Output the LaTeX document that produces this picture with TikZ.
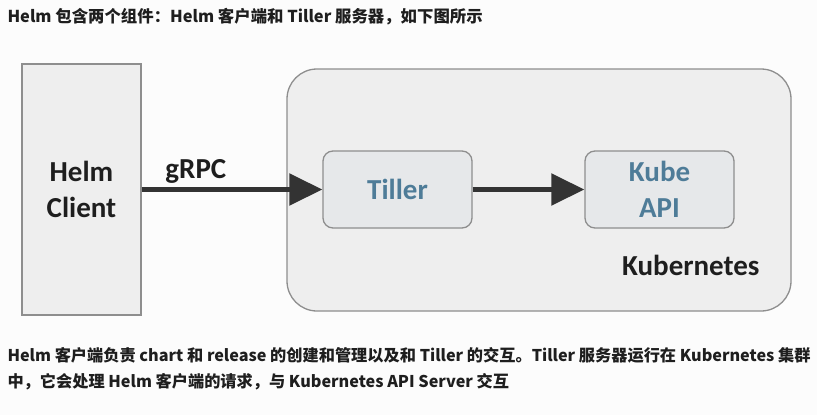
\documentclass[tikz,border=0pt]{standalone}
\usepackage{fontspec}
\setmainfont{Carlito}
\newfontfamily\cjk{Noto Sans CJK SC}
\usetikzlibrary{arrows.meta}
\usetikzlibrary{positioning}
\definecolor{pagebg}{HTML}{FCFCFC}
\definecolor{boxfill}{HTML}{EEEEEE}
\definecolor{boxline}{HTML}{8E8E8E}
\definecolor{innerfill}{HTML}{E6E8EA}
\definecolor{steel}{HTML}{4E7C98}
\definecolor{arrowgray}{HTML}{333333}
\definecolor{ink}{HTML}{1E1E1E}
\tikzset{
    box/.style={
        draw=boxline, fill=boxfill, line width=1.3pt, text=ink,
        font=\fontsize{29}{36}\selectfont\bfseries, align=center
    },
    innerbox/.style={
        box, fill=innerfill, rounded corners=10pt, text=steel,
        minimum width=149pt, minimum height=77pt
    },
    flowarrow/.style={
        draw=arrowgray, line width=5.5pt,
        -{Triangle[length=33pt, width=31pt, fill=arrowgray]}
    }
}

\begin{document}
\begin{tikzpicture}[x=1pt, y=-1pt]
	\useasboundingbox[fill=pagebg] (0,0) rectangle (817,415);
	
	\node[anchor=west, text=ink, font=\cjk\bfseries\fontsize{16.4}{18}\selectfont] (title) at (4,17)
		{Helm 包含两个组件：Helm 客户端和 Tiller 服务器，如下图所示};
	
	% client and cluster
	\node[box, minimum width=119pt, minimum height=251pt] (helmclient) at (81.5,189.5) {Helm\\Client};
	\draw[box, rounded corners=30pt] (287,69) rectangle (791,311);
	\node[anchor=east, text=ink, font=\fontsize{29}{36}\selectfont\bfseries] (kubernetes) at (763,265) {Kubernetes};
	
	\node[innerbox] (tiller) at (397.5,189.5) {Tiller};
	\node[innerbox] (kubeapi) at (659.5,189.5) {Kube\\API};
	
	\draw[flowarrow] (helmclient) -- node[pos=0.3, above=0pt, text=ink, font=\fontsize{29}{36}\selectfont\bfseries] (grpc) {gRPC} (tiller);
	\draw[flowarrow] (tiller) -- (kubeapi);
	
	\node[anchor=north west, align=left, text=ink, font=\cjk\bfseries\fontsize{16.2}{26}\selectfont] (note) at (4,344)
		{Helm 客户端负责 chart 和 release 的创建和管理以及和 Tiller 的交互。Tiller 服务器运行在 Kubernetes 集群\\
		 中，它会处理 Helm 客户端的请求，与 Kubernetes API Server 交互};
	
\end{tikzpicture}
\end{document}
